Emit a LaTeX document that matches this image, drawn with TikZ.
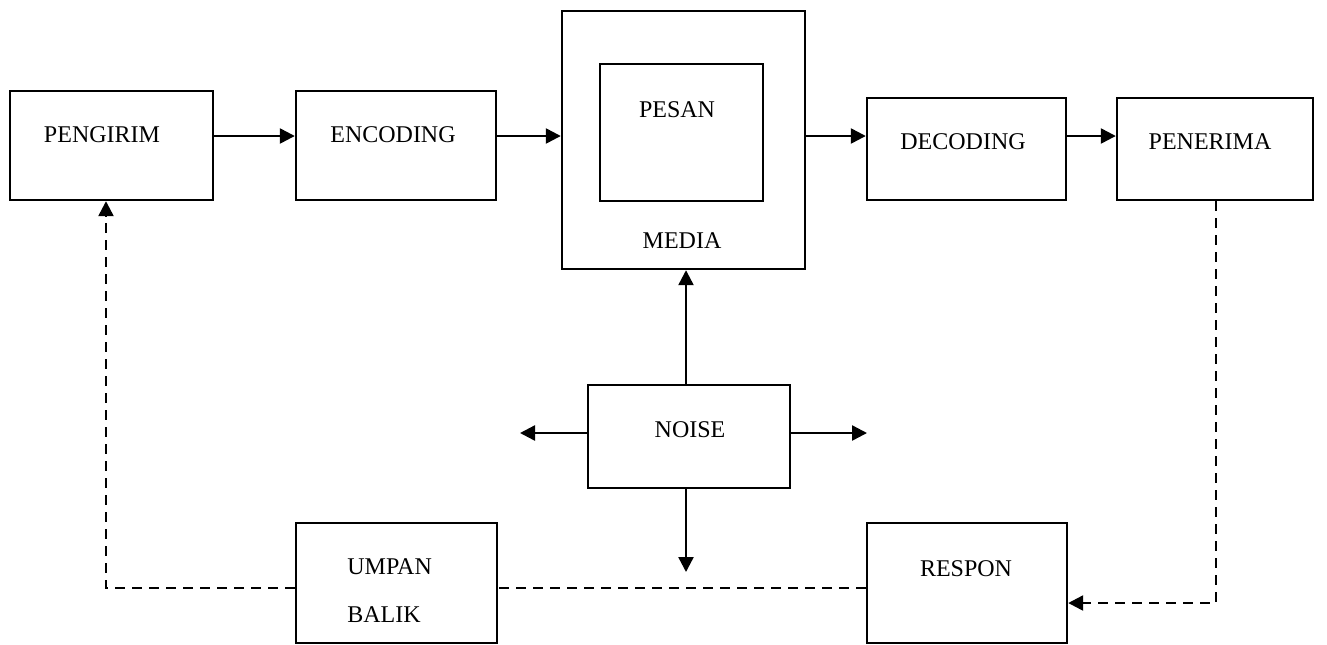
\documentclass[tikz,border=0pt]{standalone}
\usepackage{fontspec}
\setmainfont{Liberation Serif}
\usetikzlibrary{arrows.meta}
\begin{document}
\begin{tikzpicture}[x=0.5pt,y=-0.5pt,
  box/.style={draw,line width=1.2pt,inner sep=0pt},
  lbl/.style={inner sep=0pt,anchor=base,font=\fontsize{12pt}{14pt}\selectfont},
  arr/.style={line width=1.2pt,-{Triangle[length=7.5pt,width=7.5pt]}},
  dsh/.style={line width=1.2pt,dash pattern=on 5pt off 3.5pt},
  dsharr/.style={dsh,-{Triangle[length=7.5pt,width=7.5pt]}}]
\useasboundingbox (0,0) rectangle (1327,644);
% boxes
\node[box,minimum width=101.5pt,minimum height=54.5pt] (g) at (111.5,145.5) {};
\node[box,minimum width=100pt,minimum height=54.5pt] (e) at (396,145.5) {};
\node[box,minimum width=121.5pt,minimum height=129pt] (m) at (683.5,140) {};
\node[box,minimum width=81.5pt,minimum height=68.5pt] (p) at (681.5,132.5) {};
\node[box,minimum width=99.5pt,minimum height=51pt] (d) at (966.5,149) {};
\node[box,minimum width=98pt,minimum height=51pt] (r) at (1215,149) {};
\node[box,minimum width=101pt,minimum height=51.5pt] (n) at (689,436.5) {};
\node[box,minimum width=100.5pt,minimum height=60pt] (u) at (396.5,583) {};
\node[box,minimum width=100pt,minimum height=60pt] (s) at (967,583) {};
% texts
\node[lbl] (tg) at (102,142) {PENGIRIM};
\node[lbl] (te) at (393,142) {ENCODING};
\node[lbl] (tp) at (677,117) {PESAN};
\node[lbl] (tm) at (682,248) {MEDIA};
\node[lbl] (td) at (963,149) {DECODING};
\node[lbl] (tr) at (1210,149) {PENERIMA};
\node[lbl] (tn) at (690,437) {NOISE};
\node[lbl,anchor=base west] (tu1) at (347,574) {UMPAN};
\node[lbl,anchor=base west] (tu2) at (347,622) {BALIK};
\node[lbl] (ts) at (966,576) {RESPON};
% helper coordinates
\coordinate (row) at (0,136);
\coordinate (nx) at (686,0);
\coordinate (ny) at (0,433);
\coordinate (nl) at (520,433);
\coordinate (nr) at (867,433);
\coordinate (nd) at (686,572);
\coordinate (fx) at (1216,0);
\coordinate (fy) at (0,603);
\coordinate (by) at (0,588);
\coordinate (bx) at (106,0);
% solid arrows
\draw[arr] (g.east |- row) -- (e.west |- row);
\draw[arr] (e.east |- row) -- (m.west |- row);
\draw[arr] (m.east |- row) -- (d.west |- row);
\draw[arr] (d.east |- row) -- (r.west |- row);
\draw[arr] (n.north -| nx) -- (m.south -| nx);
\draw[arr] (n.west |- ny) -- (nl);
\draw[arr] (n.east |- ny) -- (nr);
\draw[arr] (n.south -| nx) -- (nd);
% dashed feedback
\draw[dsharr] (r.south -| fx) -- (fx |- fy) -- (s.east |- fy);
\draw[dsh] (s.west |- by) -- (u.east |- by);
\draw[dsharr] (u.west |- by) -- (bx |- by) -- (g.south -| bx);
\end{tikzpicture}
\end{document}
